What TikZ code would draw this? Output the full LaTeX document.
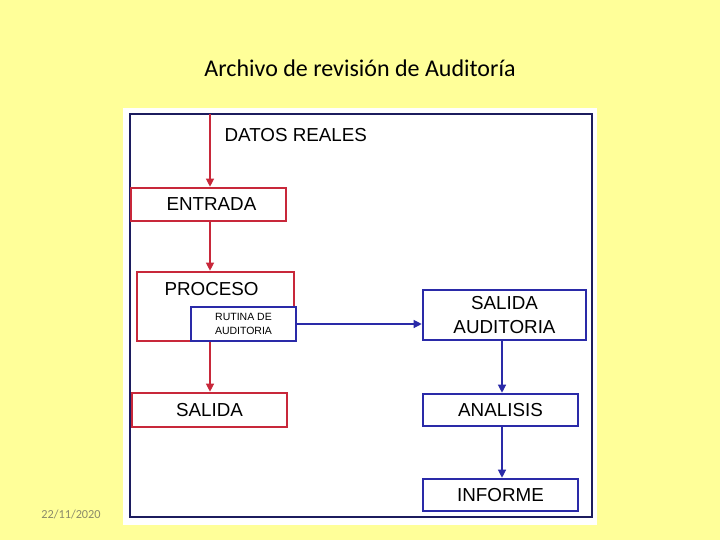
\documentclass[tikz,border=0pt]{standalone}
\usepackage{fontspec}
\setmainfont{Liberation Sans}
\newfontfamily\titlefont{Carlito}
\usetikzlibrary{arrows.meta}
\definecolor{bgyellow}{HTML}{FFFF99}
\definecolor{boxred}{HTML}{C8283A}
\definecolor{boxblue}{HTML}{2A2AA8}
\definecolor{navy}{HTML}{1C1C5E}
\definecolor{dategray}{HTML}{8A8A6A}
\tikzset{
  difont/.style={font=\fontsize{18.8}{24}\selectfont},
  redbox/.style={draw=boxred, line width=2.6pt, fill=white, inner sep=0pt, difont},
  bluebox/.style={draw=boxblue, line width=2.6pt, fill=white, inner sep=0pt, align=center, difont},
  redarrow/.style={draw=boxred, line width=1.2pt, -{Triangle[length=8pt,width=8pt]}},
  bluearrow/.style={draw=boxblue, line width=1.2pt, -{Triangle[length=8pt,width=8pt]}},
}
\begin{document}
\begin{tikzpicture}[x=1pt,y=-1pt]
\useasboundingbox (0,0) rectangle (720,540);
\fill[bgyellow] (0,0) rectangle (720,540);
\node[font=\titlefont\fontsize{24}{28}\selectfont] (title) at (360,68) {Archivo de revisión de Auditoría};
\fill[white] (123,108) rectangle (597,525);
\draw[navy, line width=2.6pt] (130,114) rectangle (592,517);
\node[font=\titlefont\fontsize{12.3}{14}\selectfont, text=dategray] (date) at (71,514) {22/11/2020};
% top
\coordinate (top) at (210,114);
\node[anchor=west, difont] (datos) at (221,135) {DATOS REALES};
% red boxes
\node[redbox, minimum width=155pt, minimum height=33pt] (entrada) at (208.5,204.5) {};
\node[anchor=west, difont] (entradat) at (163,204.5) {ENTRADA};
\node[redbox, minimum width=157pt, minimum height=69pt] (proceso) at (215.5,306.5) {};
\node[anchor=west, difont] (procesot) at (161,289) {PROCESO};
\node[bluebox, minimum width=105pt, minimum height=34pt, font=\fontsize{10.5}{14}\selectfont] (rutina) at (243.5,324) {RUTINA DE\\AUDITORIA};
\node[redbox, minimum width=155pt, minimum height=34pt] (salida) at (209.5,410) {SALIDA};
% blue boxes
\node[bluebox, minimum width=163pt, minimum height=50pt] (salaud) at (504.5,315) {SALIDA\\AUDITORIA};
\node[bluebox, minimum width=155pt, minimum height=32pt] (analisis) at (500.5,410) {ANALISIS};
\node[bluebox, minimum width=155pt, minimum height=32pt] (informe) at (500.5,495) {INFORME};
% arrows
\draw[redarrow] (top) -- (entrada.north -| top);
\draw[redarrow] (entrada.south -| top) -- (proceso.north -| top);
\draw[redarrow] (proceso.south -| top) -- (salida.north -| top);
\draw[bluearrow] (rutina.east) -- (salaud.west |- rutina.east);
\draw[bluearrow] (502,340) -- (analisis.north -| 502,0);
\draw[bluearrow] (analisis.south -| 502,0) -- (informe.north -| 502,0);
\end{tikzpicture}
\end{document}
